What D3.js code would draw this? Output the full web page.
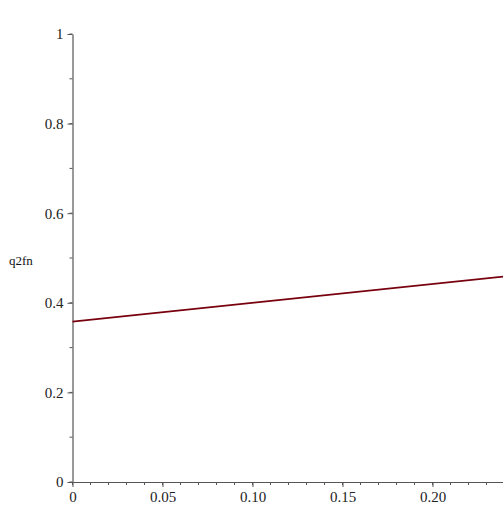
<!DOCTYPE html>
<html>
<head>
<meta charset="utf-8">
<script src="https://cdn.jsdelivr.net/npm/d3@7"></script>
<style>
  html, body { margin: 0; padding: 0; background: #fff; overflow: hidden; }
  svg text { font-family: "Liberation Serif", "Times New Roman", "DejaVu Serif", serif !important; }
</style>
</head>
<body>
<div id="chart"></div>
<script>
// line end points
var xValues = [0, 0.25];
var yValues = [0.358, 0.463];

var xTicks = [0, 0.05, 0.10, 0.15, 0.20];
var xTickLabels = ["0", "0.05", "0.10", "0.15", "0.20"];
var yTicks = [0, 0.2, 0.4, 0.6, 0.8, 1];
var yTickLabels = ["0", "0.2", "0.4", "0.6", "0.8", "1"];
var yLabel = "q2fn";

var W = 503, H = 507;
var x0 = 72.5, y0 = 482, yTop = 34, pxPerX = 1800;

var x = d3.scaleLinear().domain([0, 0.25]).range([x0, x0 + 0.25 * pxPerX]);
var y = d3.scaleLinear().domain([0, 1]).range([y0, yTop]);

var svg = d3.select("#chart").append("svg")
  .attr("width", W)
  .attr("height", H);

var axisColor = "#555";

// minor ticks
var xMinor = d3.range(0, 26).map(function(i) { return i / 100; });
svg.append("g").selectAll("line").data(xMinor).enter().append("line")
  .attr("x1", function(d) { return x(d); })
  .attr("x2", function(d) { return x(d); })
  .attr("y1", y0)
  .attr("y2", y0 + 3)
  .attr("stroke", axisColor);

var yMinor = d3.range(0, 11).map(function(i) { return i / 10; });
svg.append("g").selectAll("line").data(yMinor).enter().append("line")
  .attr("x1", x0 - 3)
  .attr("x2", x0)
  .attr("y1", function(d) { return y(d); })
  .attr("y2", function(d) { return y(d); })
  .attr("stroke", axisColor);

// x axis
var xAxis = d3.axisBottom(x)
  .tickValues(xTicks)
  .tickFormat(function(d, i) { return xTickLabels[i]; })
  .tickSize(5)
  .tickPadding(4)
  .tickSizeOuter(0);
var gx = svg.append("g")
  .attr("transform", "translate(0," + y0 + ")")
  .call(xAxis);

// y axis
var yAxis = d3.axisLeft(y)
  .tickValues(yTicks)
  .tickFormat(function(d, i) { return yTickLabels[i]; })
  .tickSize(5)
  .tickPadding(4)
  .tickSizeOuter(0);
var gy = svg.append("g")
  .attr("transform", "translate(" + x0 + ",0)")
  .call(yAxis);

[gx, gy].forEach(function(g) {
  g.attr("font-family", null);
  g.select(".domain").attr("stroke", axisColor).attr("stroke-width", 1.2);
  g.selectAll(".tick line").attr("stroke", axisColor);
  g.selectAll(".tick text")
    .attr("fill", "#222")
    .style("font-size", "15px");
});

// axis label
svg.append("text")
  .attr("x", 9)
  .attr("y", 265)
  .attr("fill", "#111")
  .style("font-size", "13px")
  .text(yLabel);

// the curve
var pts = xValues.map(function(d, i) { return [d, yValues[i]]; });
svg.append("path")
  .datum(pts)
  .attr("fill", "none")
  .attr("stroke", "#78000E")
  .attr("stroke-width", 1.6)
  .attr("d", d3.line()
    .x(function(d) { return x(d[0]); })
    .y(function(d) { return y(d[1]); }));
</script>
</body>
</html>
